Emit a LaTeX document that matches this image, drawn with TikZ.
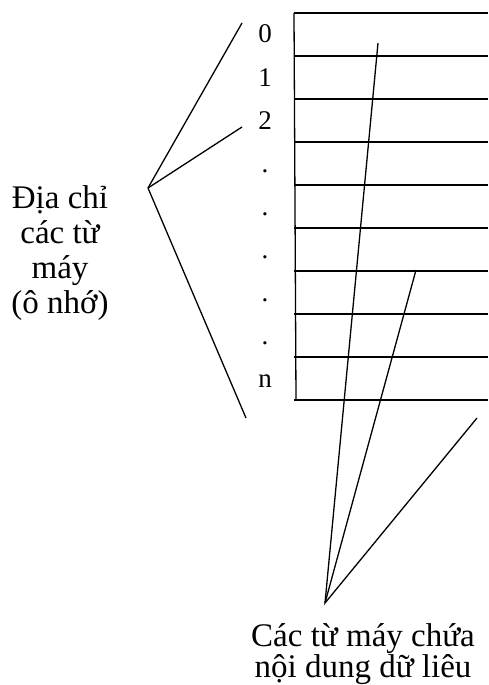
\documentclass[tikz,border=0pt]{standalone}
\usepackage{fontspec}
\setmainfont{Liberation Serif}
\usetikzlibrary{positioning}

\begin{document}
\begin{tikzpicture}[x=1pt, y=-1pt, line width=1.3pt,
    lbl/.style={font=\fontsize{33}{35}\selectfont, align=center, inner sep=0pt},
    idx/.style={font=\fontsize{27}{27}\selectfont, anchor=base, inner sep=0pt}]
\useasboundingbox (0,0) rectangle (488,685);
% memory words
\draw (294,13) -- (296,400);
\foreach \i in {0,...,9}
    \draw (294,13+43*\i) -- (488,13+43*\i);
\foreach \t [count=\i from 0] in {0,1,2,.,.,.,.,.,n}
    \node[idx] (r\i) at (265,43+43*\i) {\t};
% addresses
\node[lbl] (addrlbl) at (60,253) {Địa chỉ\\các từ\\máy\\(ô nhớ)};
\coordinate (addr) at (148,188);
\coordinate (a0) at (242,23);
\coordinate (a2) at (242,127);
\coordinate (an) at (246,418);
\draw (a0) -- (addr) -- (an);
\draw (addr) -- (a2);
% contents
\node[lbl, font=\fontsize{33}{31}\selectfont] (celllbl) at (363,654) {Các từ máy chứa\\nội dung dữ liêu};
\coordinate (cell) at (325,603);
\coordinate (c0) at (378,43);
\coordinate (c5) at (416,270);
\coordinate (c9) at (477,418);
\draw (c0) -- (cell) -- (c9);
\draw (cell) -- (c5);
\end{tikzpicture}
\end{document}
